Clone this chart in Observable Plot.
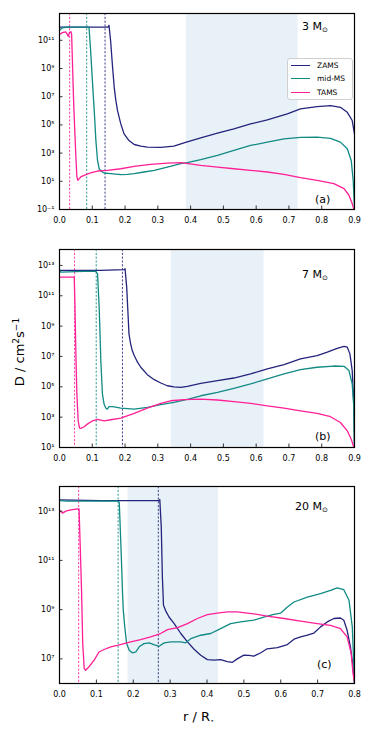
<!DOCTYPE html>
<html><head><meta charset="utf-8">
<script src="https://cdn.jsdelivr.net/npm/d3@7"></script>
<script src="https://cdn.jsdelivr.net/npm/@observablehq/plot@0.6"></script>
<style>
body{margin:0;background:#fff;font-family:"DejaVu Sans",sans-serif;}
#root{position:relative;width:374px;height:740px;overflow:hidden;}
.pl{position:absolute;left:0;}
.lab{position:absolute;color:#000;white-space:nowrap;line-height:1;}
.mass{font-size:11px;}
.mass sub{font-size:7px;vertical-align:-2px;}
.letter{font-size:11px;}
.legend{position:absolute;left:287px;top:58px;width:64px;height:40px;border:1px solid #cfcfcf;border-radius:3px;background:rgba(255,255,255,0.85);font-size:7.5px;white-space:nowrap;line-height:1;}
.legend .row{position:absolute;left:3px;width:60px;height:10px;}
.legend .sw{position:absolute;left:0;top:4px;width:19px;height:0;border-top:1.4px solid;}
.legend .tx{position:absolute;left:26px;top:1px;white-space:nowrap;}
</style></head>
<body><div id="root"></div>
<script>
const series = ["ZAMS", "mid-MS", "TAMS"];
const colors = ["#24247d", "#118a84", "#ff1f96"];

// ---- Panel (a): 3 Msun ----  r / R*, log10 D
const a_ZAMS_r = [0,0.075,0.148,0.151,0.156,0.162,0.167,0.172,0.177,0.187,0.197,0.212,0.228,0.248,0.268,0.309,0.349,0.387,0.431,0.482,0.532,0.583,0.634,0.695,0.735,0.786,0.827,0.857,0.878,0.893,0.9];
const a_ZAMS_logD = [11.94,11.94,11.94,12.06,10.95,9.07,7.66,6.72,6.01,5.07,4.36,3.89,3.61,3.49,3.42,3.40,3.49,3.78,4.08,4.41,4.72,5.07,5.35,5.78,6.13,6.29,6.36,6.25,5.89,5.31,4.36];
const a_mid_r = [0,0.009,0.024,0.090,0.095,0.101,0.106,0.111,0.116,0.121,0.126,0.136,0.156,0.187,0.207,0.228,0.258,0.289,0.329,0.370,0.390,0.431,0.482,0.532,0.583,0.634,0.685,0.735,0.786,0.827,0.857,0.878,0.890,0.896,0.9];
const a_mid_logD = [11.71,11.89,11.94,11.94,10.25,7.89,6.01,3.89,2.48,1.89,1.73,1.59,1.54,1.47,1.49,1.54,1.66,1.78,2.01,2.25,2.32,2.53,2.84,3.19,3.54,3.78,4.01,4.11,4.13,4.04,3.78,3.31,2.48,1.07,-1];
const a_TAMS_r = [0,0.009,0.019,0.024,0.027,0.030,0.035,0.037,0.040,0.043,0.047,0.050,0.053,0.056,0.060,0.065,0.075,0.095,0.116,0.146,0.187,0.228,0.278,0.329,0.370,0.431,0.482,0.532,0.583,0.634,0.685,0.735,0.786,0.837,0.868,0.883,0.893,0.898];
const a_TAMS_logD = [11.42,11.54,11.59,11.42,11.28,11.54,11.61,11.42,9.07,6.72,4.36,2.72,1.31,1.07,1.19,1.31,1.42,1.59,1.73,1.78,1.89,2.06,2.20,2.29,2.32,2.13,2.01,1.89,1.78,1.66,1.49,1.26,1.07,0.84,0.48,0.01,-0.58,-1];
const a_core = [0.139, 0.083, 0.031];
const a_shade = [0.387, 0.728];

// ---- Panel (b): 7 Msun ----
const b_ZAMS_r = [0,0.126,0.197,0.200,0.205,0.209,0.212,0.217,0.222,0.228,0.238,0.248,0.268,0.289,0.309,0.329,0.349,0.370,0.390,0.431,0.482,0.532,0.583,0.634,0.685,0.735,0.786,0.817,0.847,0.868,0.878,0.886,0.893,0.898,0.9];
const b_ZAMS_logD = [12.67,12.67,12.72,12.78,11.57,9.81,8.49,7.83,7.39,7.06,6.62,6.29,5.80,5.47,5.25,5.07,4.99,4.96,5.03,5.23,5.41,5.58,5.85,6.18,6.46,6.84,7.06,7.28,7.54,7.67,7.61,7.17,6.07,3.86,1];
const b_mid_r = [0,0.004,0.075,0.111,0.116,0.121,0.124,0.126,0.131,0.136,0.141,0.146,0.151,0.162,0.187,0.228,0.268,0.309,0.349,0.390,0.431,0.482,0.532,0.583,0.634,0.685,0.735,0.786,0.837,0.868,0.883,0.893,0.898,0.9];
const b_mid_logD = [12.72,12.56,12.61,12.61,12.45,10.25,8.27,6.73,4.52,3.86,3.60,3.53,3.69,3.69,3.60,3.53,3.64,3.82,3.97,4.17,4.41,4.63,4.90,5.19,5.52,5.85,6.13,6.29,6.37,6.35,6.07,5.19,3.64,1];
const b_TAMS_r = [0,0.045,0.047,0.050,0.053,0.057,0.061,0.065,0.075,0.085,0.101,0.116,0.136,0.156,0.187,0.228,0.268,0.309,0.339,0.380,0.431,0.482,0.532,0.583,0.634,0.685,0.735,0.786,0.827,0.857,0.878,0.890,0.898];
const b_TAMS_logD = [12.23,12.23,10.47,7.17,4.52,2.76,2.28,2.26,2.37,2.54,2.76,2.85,2.76,2.83,2.94,3.25,3.60,3.91,4.08,4.15,4.19,4.13,4.02,3.91,3.75,3.60,3.42,3.25,3.03,2.65,2.10,1.55,1];
const b_core = [0.192, 0.112, 0.046];
const b_shade = [0.341, 0.624];

// ---- Panel (c): 20 Msun ----
const c_ZAMS_r = [0,0.112,0.270,0.272,0.276,0.279,0.282,0.288,0.297,0.311,0.329,0.347,0.365,0.383,0.401,0.419,0.437,0.455,0.469,0.482,0.500,0.514,0.527,0.545,0.563,0.591,0.618,0.636,0.654,0.672,0.690,0.708,0.726,0.744,0.762,0.771,0.780,0.789,0.796,0.8];
const c_ZAMS_logD = [13.46,13.43,13.43,13.47,12.35,10.32,9.18,8.95,8.70,8.43,8.03,7.69,7.39,7.15,6.97,6.95,6.97,6.89,6.86,7.00,7.15,7.14,7.11,7.24,7.41,7.46,7.58,7.80,7.89,7.96,8.05,8.30,8.50,8.64,8.66,8.57,8.16,7.49,6.68,6.03];
const c_mid_r = [0,0.022,0.157,0.162,0.164,0.168,0.171,0.173,0.177,0.182,0.189,0.198,0.207,0.216,0.229,0.243,0.256,0.270,0.284,0.302,0.329,0.342,0.356,0.383,0.410,0.437,0.464,0.491,0.527,0.554,0.581,0.600,0.618,0.636,0.672,0.708,0.735,0.753,0.771,0.785,0.794,0.8];
const c_mid_logD = [13.43,13.41,13.41,13.36,12.62,11.0,9.65,8.97,8.30,7.62,7.35,7.24,7.28,7.49,7.62,7.65,7.58,7.51,7.65,7.69,7.69,7.65,7.82,7.96,8.03,8.23,8.43,8.50,8.57,8.70,8.81,8.86,9.11,9.31,9.51,9.65,9.78,9.88,9.81,9.38,8.30,6.03];
const c_TAMS_r = [0,0.008,0.017,0.031,0.044,0.053,0.056,0.060,0.063,0.067,0.071,0.080,0.094,0.107,0.121,0.139,0.157,0.175,0.193,0.220,0.247,0.274,0.293,0.320,0.347,0.374,0.401,0.428,0.455,0.482,0.509,0.536,0.563,0.609,0.654,0.699,0.735,0.762,0.780,0.791,0.796,0.8];
const c_TAMS_logD = [13.03,12.92,13.0,13.05,13.08,13.09,11.68,9.65,7.62,6.61,6.54,6.68,6.95,7.28,7.38,7.49,7.55,7.62,7.69,7.78,7.89,8.03,8.19,8.27,8.43,8.64,8.80,8.86,8.91,8.91,8.86,8.81,8.74,8.64,8.53,8.43,8.36,8.23,7.89,7.22,6.41,6.03];
const c_core = [0.268, 0.159, 0.052];
const c_shade = [0.186, 0.431];

// axis tick values
const xTicks09 = [0,0.1,0.2,0.3,0.4,0.5,0.6,0.7,0.8,0.9];
const xTicks08 = [0,0.1,0.2,0.3,0.4,0.5,0.6,0.7,0.8];
const a_yTicks = [1e-1,1e1,1e3,1e5,1e7,1e9,1e11];
const b_yTicks = [1e1,1e3,1e5,1e7,1e9,1e11,1e13];
const c_yTicks = [1e7,1e9,1e11,1e13];

function rowsOf(list) {
  const out = [];
  list.forEach(([s, r, lg]) => r.forEach((v, i) => out.push({s, r: v, D: Math.pow(10, lg[i])})));
  return out;
}
const supMap = {"-":"⁻","0":"⁰","1":"¹","2":"²","3":"³","4":"⁴","5":"⁵","6":"⁶","7":"⁷","8":"⁸","9":"⁹"};
const pow10 = d => "10" + String(Math.round(Math.log10(d))).split("").map(c => supMap[c]).join("");

const W = 374, ML = 59, MR = 20;
function panel({rows, yDomain, yTicks, xMax, xTicks, shade, core, height, mt, mb}) {
  const innerH = height - mt - mb, innerW = W - ML - MR;
  const cores = core.map((r, i) => ({r, s: series[i]}));
  return Plot.plot({
    width: W, height, marginLeft: ML, marginRight: MR, marginTop: mt, marginBottom: mb,
    style: {fontFamily: "DejaVu Sans, sans-serif", fontSize: "8px", background: "transparent", color: "#000"},
    x: {domain: [0, xMax], ticks: xTicks, tickFormat: d3.format(".1f"), tickSize: 0, tickPadding: 8, label: null},
    y: {type: "log", domain: yDomain, ticks: yTicks, tickFormat: pow10, tickSize: 0, tickPadding: 5, label: null},
    color: {domain: series, range: colors},
    marks: [
      Plot.rect([shade], {x1: d => d[0], x2: d => d[1], y1: () => yDomain[0], y2: () => yDomain[1], fill: "#e9f1f8"}),
      Plot.ruleX(cores, {x: "r", stroke: "s", strokeDasharray: "2.2,1.6", strokeWidth: 1, strokeOpacity: 0.85}),
      Plot.line(rows, {x: "r", y: "D", z: "s", stroke: "s", strokeWidth: 1.3, clip: true}),
      Plot.ruleX(xTicks, {insetTop: innerH - 3.5, stroke: "#000", strokeWidth: 0.8}),
      Plot.ruleY(yTicks, {insetRight: innerW - 3.5, stroke: "#000", strokeWidth: 0.8}),
      Plot.frame({stroke: "#000", strokeWidth: 1.2})
    ]
  });
}

const root = document.getElementById("root");
function place(el, top) { const d = document.createElement("div"); d.className = "pl"; d.style.top = top + "px"; d.appendChild(el); root.appendChild(d); }
function label(html, cls, left, top, extra) { const d = document.createElement("div"); d.className = "lab " + cls; d.innerHTML = html; d.style.left = left + "px"; d.style.top = top + "px"; if (extra) Object.assign(d.style, extra); root.appendChild(d); return d; }

place(panel({
  rows: rowsOf([["ZAMS", a_ZAMS_r, a_ZAMS_logD], ["mid-MS", a_mid_r, a_mid_logD], ["TAMS", a_TAMS_r, a_TAMS_logD]]),
  yDomain: [1e-1, Math.pow(10, 12.9)], yTicks: a_yTicks, xMax: 0.9, xTicks: xTicks09,
  shade: a_shade, core: a_core, height: 230, mt: 13, mb: 21
}), 0);
place(panel({
  rows: rowsOf([["ZAMS", b_ZAMS_r, b_ZAMS_logD], ["mid-MS", b_mid_r, b_mid_logD], ["TAMS", b_TAMS_r, b_TAMS_logD]]),
  yDomain: [1e1, Math.pow(10, 14.05)], yTicks: b_yTicks, xMax: 0.9, xTicks: xTicks09,
  shade: b_shade, core: b_core, height: 240, mt: 19, mb: 23
}), 230);
place(panel({
  rows: rowsOf([["ZAMS", c_ZAMS_r, c_ZAMS_logD], ["mid-MS", c_mid_r, c_mid_logD], ["TAMS", c_TAMS_r, c_TAMS_logD]]),
  yDomain: [1e6, 1e14], yTicks: c_yTicks, xMax: 0.8, xTicks: xTicks08,
  shade: c_shade, core: c_core, height: 235, mt: 16, mb: 22
}), 470);

// annotations
label("3 M<sub>⊙</sub>", "mass", 302, 21);
label("7 M<sub>⊙</sub>", "mass", 302, 269);
label("20 M<sub>⊙</sub>", "mass", 295, 501);
label("(a)", "letter", 315, 194);
label("(b)", "letter", 315, 431);
label("(c)", "letter", 317, 659);
label("r / R<sub style='font-size:7px;vertical-align:-2px'>⋆</sub>", "", 183, 710, {fontSize: "13px"});
label("D / cm<sup style='font-size:9px'>2</sup>s<sup style='font-size:9px'>−1</sup>", "", 19, 352,
  {fontSize: "13px", transform: "translate(-50%,-50%) rotate(-90deg)", transformOrigin: "center"});

// legend
const lg = document.createElement("div"); lg.className = "legend"; root.appendChild(lg);
series.forEach((s, i) => {
  const r = document.createElement("div"); r.className = "row"; r.style.top = (2 + i * 13.3) + "px";
  r.innerHTML = `<span class="sw" style="border-color:${colors[i]}"></span><span class="tx">${s}</span>`;
  lg.appendChild(r);
});
</script>
</body></html>
